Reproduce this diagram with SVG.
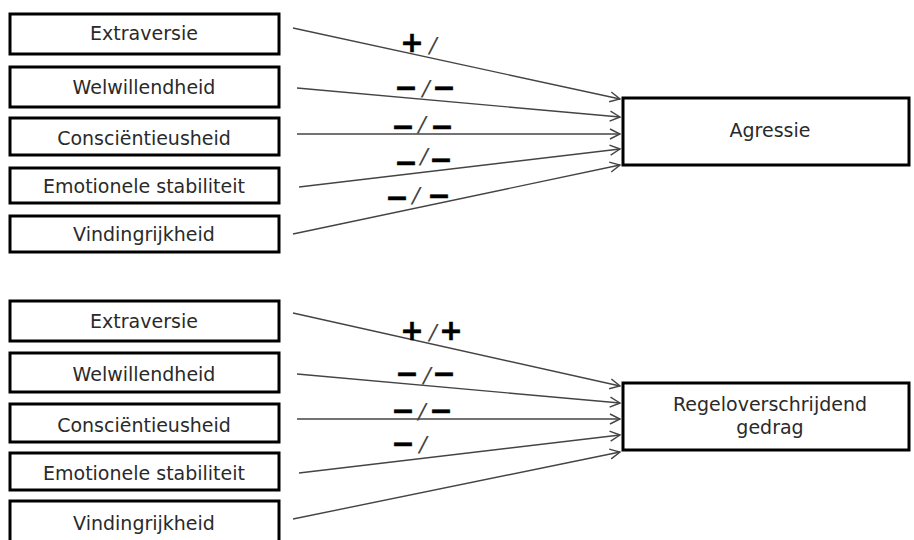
<svg xmlns="http://www.w3.org/2000/svg" width="914" height="540" viewBox="0 0 914 540">
<defs>
<marker id="arr" markerUnits="userSpaceOnUse" markerWidth="14" markerHeight="14" refX="11" refY="6" orient="auto">
<path d="M1,1 L11,6 L1,11" fill="none" stroke="#444" stroke-width="1.4"/>
</marker>
</defs>
<style>
.box{fill:#fff;stroke:#000;stroke-width:3}
.lbl{font-family:"DejaVu Sans",Verdana,sans-serif;font-size:19px;fill:#2a2a2a;text-anchor:middle}
.big{font-family:"DejaVu Sans",Verdana,sans-serif;font-size:19px;fill:#2a2a2a;text-anchor:middle}
.con{stroke:#444;stroke-width:1.4;fill:none;marker-end:url(#arr)}
.sg{font-family:"DejaVu Sans",sans-serif;font-weight:bold;font-size:28px;fill:#000;stroke:#000;stroke-width:0.5;text-anchor:middle}
.sl{font-family:"DejaVu Sans",sans-serif;font-style:oblique;font-size:22px;fill:#444;stroke:none;text-anchor:middle}
</style>
<rect width="914" height="540" fill="#fff"/>
<g id="connectors">
<line class="con" x1="293" y1="28" x2="620" y2="99"/>
<line class="con" x1="297" y1="88" x2="620" y2="117"/>
<line class="con" x1="297" y1="134" x2="620" y2="134"/>
<line class="con" x1="299" y1="187" x2="620" y2="149"/>
<line class="con" x1="293" y1="234" x2="620" y2="165"/>
<line class="con" x1="293" y1="313" x2="620" y2="386"/>
<line class="con" x1="297" y1="374" x2="620" y2="403"/>
<line class="con" x1="297" y1="419" x2="620" y2="419"/>
<line class="con" x1="299" y1="473" x2="620" y2="435"/>
<line class="con" x1="293" y1="519" x2="620" y2="452"/>
</g>
<g id="edge-labels">
<text><tspan class="sg" x="412" y="52.4">+</tspan><tspan class="sl" x="433" y="53">/</tspan></text>
<text><tspan class="sg" x="406" y="97.4">−</tspan><tspan class="sl" x="426" y="96">/</tspan><tspan class="sg" x="444" y="97.4">−</tspan></text>
<text><tspan class="sg" x="403" y="136.4">−</tspan><tspan class="sl" x="422" y="132">/</tspan><tspan class="sg" x="442" y="136.4">−</tspan></text>
<text><tspan class="sg" x="406" y="172.2">−</tspan><tspan class="sl" x="424" y="164">/</tspan><tspan class="sg" x="441" y="169.2">−</tspan></text>
<text><tspan class="sg" x="397" y="207.4">−</tspan><tspan class="sl" x="416" y="203">/</tspan><tspan class="sg" x="439" y="205.2">−</tspan></text>
<text><tspan class="sg" x="412" y="340.4">+</tspan><tspan class="sl" x="433" y="340">/</tspan><tspan class="sg" x="451" y="340.4">+</tspan></text>
<text><tspan class="sg" x="407" y="383.4">−</tspan><tspan class="sl" x="427" y="383">/</tspan><tspan class="sg" x="444" y="383.4">−</tspan></text>
<text><tspan class="sg" x="403" y="420">−</tspan><tspan class="sl" x="422" y="419">/</tspan><tspan class="sg" x="441" y="420">−</tspan></text>
<text><tspan class="sg" x="403" y="453">−</tspan><tspan class="sl" x="423" y="452">/</tspan></text>
</g>
<g id="a-extraversie"><rect class="box" x="10" y="14" width="269" height="40"/><text class="lbl" x="144" y="40">Extraversie</text></g>
<g id="a-welwillendheid"><rect class="box" x="10" y="67" width="269" height="40"/><text class="lbl" x="144" y="94">Welwillendheid</text></g>
<g id="a-consc"><rect class="box" x="10" y="118" width="269" height="37"/><text class="lbl" x="144" y="145">Consciëntieusheid</text></g>
<g id="a-emo"><rect class="box" x="10" y="168" width="269" height="35"/><text class="lbl" x="144" y="193">Emotionele stabiliteit</text></g>
<g id="a-vind"><rect class="box" x="10" y="216" width="269" height="36"/><text class="lbl" x="144" y="241">Vindingrijkheid</text></g>
<g id="agressie"><rect class="box" x="623" y="98" width="286" height="67"/><text class="big" x="770" y="137">Agressie</text></g>
<g id="b-extraversie"><rect class="box" x="10" y="301" width="269" height="40"/><text class="lbl" x="144" y="328">Extraversie</text></g>
<g id="b-welwillendheid"><rect class="box" x="10" y="353" width="269" height="39"/><text class="lbl" x="144" y="381">Welwillendheid</text></g>
<g id="b-consc"><rect class="box" x="10" y="404" width="269" height="38"/><text class="lbl" x="144" y="432">Consciëntieusheid</text></g>
<g id="b-emo"><rect class="box" x="10" y="453" width="269" height="37"/><text class="lbl" x="144" y="480">Emotionele stabiliteit</text></g>
<g id="b-vind"><rect class="box" x="10" y="501" width="269" height="42"/><text class="lbl" x="144" y="530">Vindingrijkheid</text></g>
<g id="regel"><rect class="box" x="623" y="383" width="286" height="67"/><text class="big" x="770" y="411">Regeloverschrijdend</text><text class="big" x="770" y="434">gedrag</text></g>
</svg>
